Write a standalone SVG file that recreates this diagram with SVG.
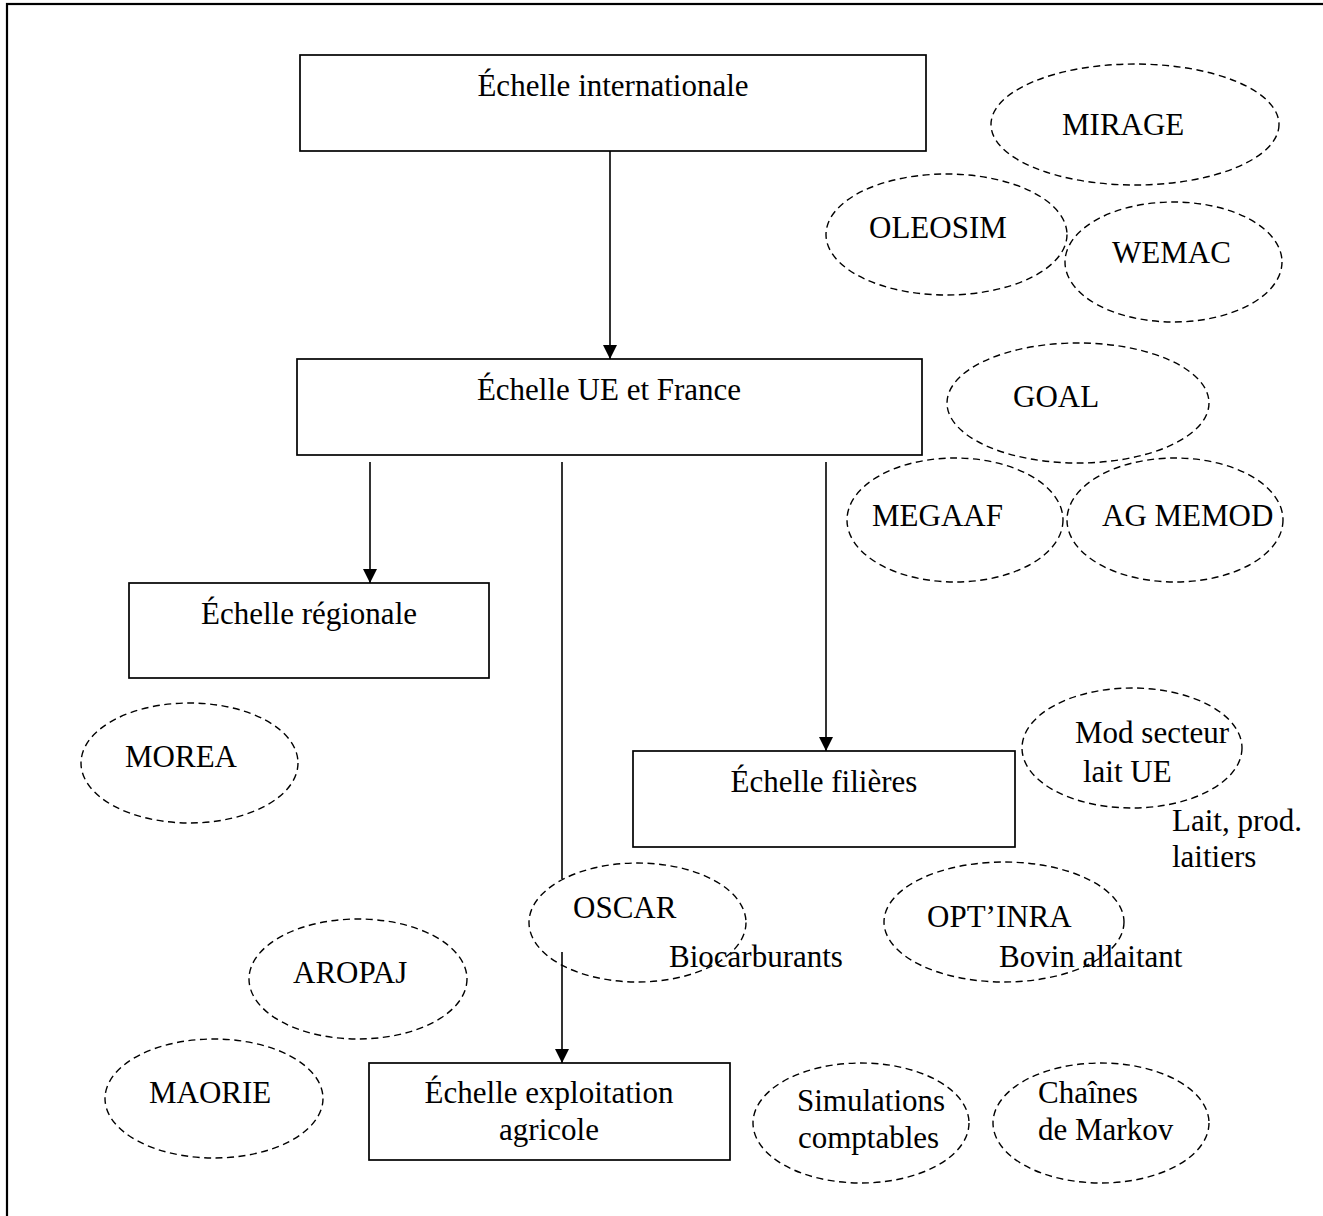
<svg xmlns="http://www.w3.org/2000/svg" width="1323" height="1216" viewBox="0 0 1323 1216">
<style>
  text { font-family: "Liberation Serif", "Times New Roman", serif; font-size: 31px; fill: #000; }
  .box { fill: #fff; stroke: #000; stroke-width: 1.7; }
  .ell { fill: none; stroke: #000; stroke-width: 1.4; stroke-dasharray: 7 4.5; }
  .con { fill: none; stroke: #000; stroke-width: 1.6; }
  .mid { text-anchor: middle; }
</style>
<defs>
  <marker id="arr" viewBox="0 0 10 10" refX="10" refY="5" markerWidth="15" markerHeight="14" markerUnits="userSpaceOnUse" orient="auto">
    <path d="M0,0 L10,5 L0,10 z" fill="#000"/>
  </marker>
</defs>
<rect width="1323" height="1216" fill="#fff"/>
<rect x="7" y="4" width="1340" height="1240" fill="none" stroke="#000" stroke-width="2.2"/>

<g id="connectors">
  <line class="con" x1="610" y1="151" x2="610" y2="359" marker-end="url(#arr)"/>
  <line class="con" x1="370" y1="462" x2="370" y2="583" marker-end="url(#arr)"/>
  <line class="con" x1="562" y1="462" x2="562" y2="879"/>
  <line class="con" x1="562" y1="952" x2="562" y2="1063" marker-end="url(#arr)"/>
  <line class="con" x1="826" y1="462" x2="826" y2="751" marker-end="url(#arr)"/>
</g>

<g id="box-international">
  <rect class="box" x="300" y="55" width="626" height="96"/>
  <text class="mid" x="613" y="96">Échelle internationale</text>
</g>
<g id="box-ue-france">
  <rect class="box" x="297" y="359" width="625" height="96"/>
  <text class="mid" x="609" y="400">Échelle UE et France</text>
</g>
<g id="box-regionale">
  <rect class="box" x="129" y="583" width="360" height="95"/>
  <text class="mid" x="309" y="624">Échelle régionale</text>
</g>
<g id="box-filieres">
  <rect class="box" x="633" y="751" width="382" height="96"/>
  <text class="mid" x="824" y="792">Échelle filières</text>
</g>
<g id="box-exploitation">
  <rect class="box" x="369" y="1063" width="361" height="97"/>
  <text class="mid" x="549" y="1103">Échelle exploitation</text>
  <text class="mid" x="549" y="1140">agricole</text>
</g>

<g id="mirage">
  <ellipse class="ell" cx="1135" cy="124.5" rx="144" ry="60.5"/>
  <text x="1062" y="135">MIRAGE</text>
</g>
<g id="oleosim">
  <ellipse class="ell" cx="946.5" cy="234.5" rx="120.5" ry="60.5"/>
  <text x="869" y="238">OLEOSIM</text>
</g>
<g id="wemac">
  <ellipse class="ell" cx="1173.5" cy="262" rx="108.5" ry="60"/>
  <text x="1112" y="263">WEMAC</text>
</g>
<g id="goal">
  <ellipse class="ell" cx="1078" cy="403" rx="131" ry="60"/>
  <text x="1013" y="407">GOAL</text>
</g>
<g id="megaaf">
  <ellipse class="ell" cx="955" cy="520" rx="108" ry="62"/>
  <text x="872" y="526">MEGAAF</text>
</g>
<g id="ag-memod">
  <ellipse class="ell" cx="1175" cy="520" rx="108" ry="62"/>
  <text x="1102" y="526">AG MEMOD</text>
</g>
<g id="morea">
  <ellipse class="ell" cx="189.5" cy="763" rx="108.5" ry="60"/>
  <text x="125" y="767">MOREA</text>
</g>
<g id="mod-secteur">
  <ellipse class="ell" cx="1132" cy="748" rx="110" ry="60"/>
  <text x="1075" y="743">Mod secteur</text>
  <text x="1083" y="782">lait UE</text>
  <text x="1172" y="831">Lait, prod.</text>
  <text x="1172" y="867">laitiers</text>
</g>
<g id="oscar">
  <ellipse class="ell" cx="637.5" cy="922.5" rx="108.5" ry="59.5"/>
  <text x="573" y="918">OSCAR</text>
  <text x="669" y="967">Biocarburants</text>
</g>
<g id="optinra">
  <ellipse class="ell" cx="1004" cy="922" rx="120" ry="60"/>
  <text x="927" y="927">OPT’INRA</text>
  <text x="999" y="967">Bovin allaitant</text>
</g>
<g id="aropaj">
  <ellipse class="ell" cx="358" cy="979" rx="109" ry="60"/>
  <text x="293" y="983">AROPAJ</text>
</g>
<g id="maorie">
  <ellipse class="ell" cx="214" cy="1098.5" rx="109" ry="59.5"/>
  <text x="149" y="1103">MAORIE</text>
</g>
<g id="simulations">
  <ellipse class="ell" cx="861" cy="1123" rx="108" ry="60"/>
  <text x="797" y="1111">Simulations</text>
  <text x="798" y="1148">comptables</text>
</g>
<g id="markov">
  <ellipse class="ell" cx="1101" cy="1123" rx="108" ry="60"/>
  <text x="1038" y="1103">Chaînes</text>
  <text x="1038" y="1140">de Markov</text>
</g>
</svg>
